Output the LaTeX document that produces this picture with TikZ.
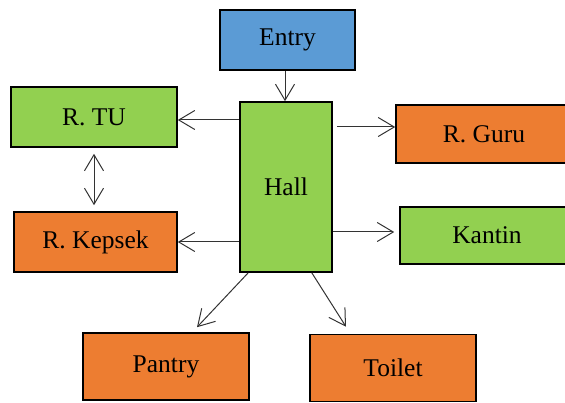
\documentclass[tikz,border=0pt]{standalone}
\usepackage{fontspec}
\setmainfont{Liberation Serif}
\usepackage{xcolor}
\definecolor{roomBlue}{HTML}{5B9BD5}
\definecolor{roomGreen}{HTML}{92D050}
\definecolor{roomOrange}{HTML}{ED7D31}
\usetikzlibrary{arrows.meta}
\tikzset{
    room/.style={draw=black, line width=1.6pt, inner sep=0pt, font=\fontsize{25.5}{30}\selectfont},
    blueRoom/.style={room, fill=roomBlue},
    greenRoom/.style={room, fill=roomGreen},
    orangeRoom/.style={room, fill=roomOrange},
    link/.style={draw=black!80, line width=1pt, -{Straight Barb[length=16pt,width=19pt]}},
    twoWay/.style={draw=black!80, line width=1pt, {Straight Barb[length=16pt,width=19pt]}-{Straight Barb[length=16pt,width=19pt]}}
}

\begin{document}
\begin{tikzpicture}[x=1pt, y=-1pt]
  % frame
  \useasboundingbox (0,0) rectangle (565,403);

  % rooms
  \node[blueRoom,   minimum width=135pt, minimum height=60pt]  (entry)  at (287.5,40)  {Entry};
  \node[greenRoom,  minimum width=92pt,  minimum height=170pt] (hall)   at (286,187)   {Hall};
  \node[greenRoom,  minimum width=166pt, minimum height=60pt]  (rtu)    at (94,117)    {R. TU};
  \node[orangeRoom, minimum width=163pt, minimum height=60pt]  (kepsek) at (95.5,242)  {R. Kepsek};
  \node[orangeRoom, minimum width=176pt, minimum height=58pt]  (guru)   at (484,134)   {R. Guru};
  \node[greenRoom,  minimum width=174pt, minimum height=57pt]  (kantin) at (487,235.5) {Kantin};
  \node[orangeRoom, minimum width=166pt, minimum height=67pt]  (pantry) at (166,366.5) {Pantry};
  \node[orangeRoom, minimum width=166pt, minimum height=67pt]  (toilet) at (393,368)   {Toilet};

  % connections
  \draw[link] (entry.south -| 285,0) -- (hall.north -| 285,0);
  \draw[link] (hall.west |- 0,120) -- (rtu.east |- 0,120);
  \draw[link] ([xshift=4pt]hall.east |- 0,127) -- (guru.west |- 0,127);
  \draw[link] (hall.west |- kepsek.east) -- (kepsek.east);
  \draw[link] (hall.east |- 0,232) -- ([xshift=-5pt]kantin.west |- 0,232);
  \draw[twoWay] ([yshift=-6pt]rtu.south) -- ([yshift=6pt]rtu.south |- kepsek.north);
  \draw[link] ([xshift=9pt]hall.south west) -- ([xshift=31pt,yshift=5pt]pantry.north);
  \draw[link] ([xshift=-21pt]hall.south east) -- ([xshift=-47pt,yshift=7pt]toilet.north);
\end{tikzpicture}
\end{document}
